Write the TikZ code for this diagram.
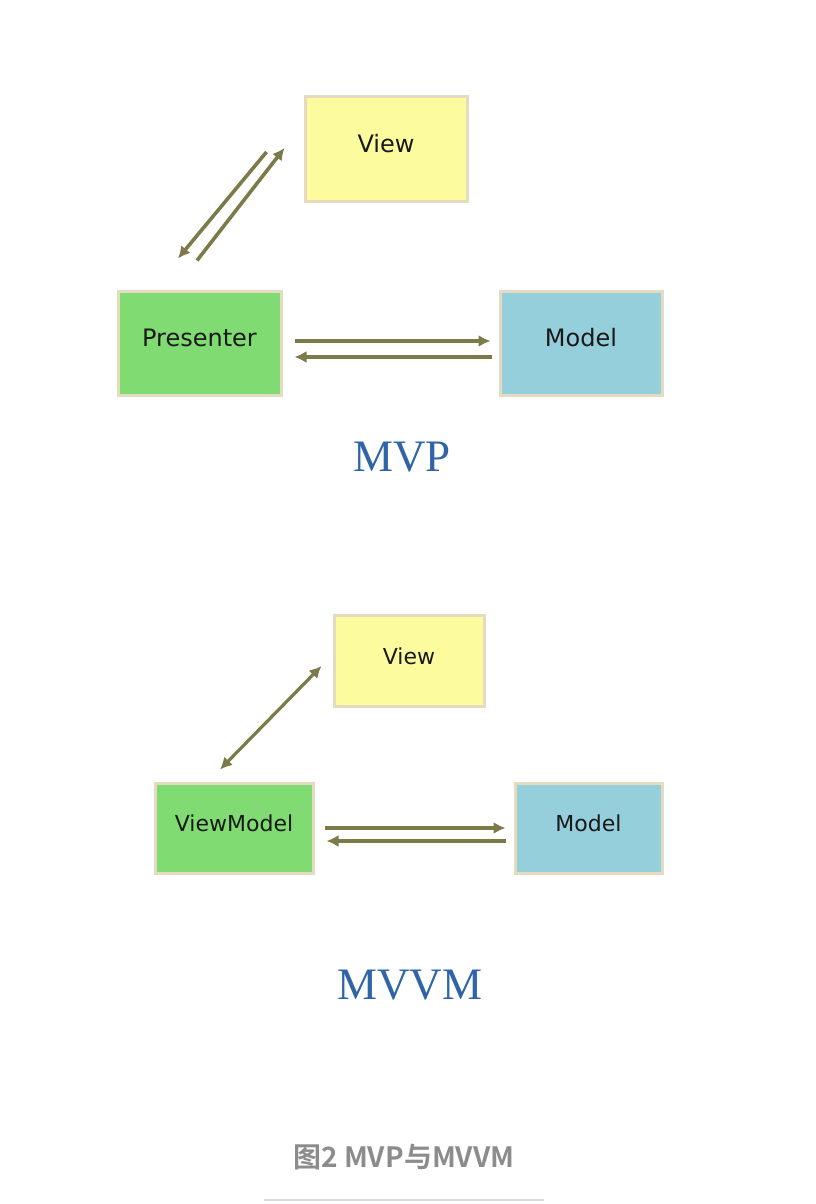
\documentclass[tikz,border=0pt]{standalone}
\usepackage{fontspec}
\newfontfamily\boxfont{DejaVu Sans}
\newfontfamily\titlefont{Liberation Serif}
\newfontfamily\cjk{Noto Sans CJK SC}[BoldFont={Noto Sans CJK SC Bold}]
\usetikzlibrary{arrows.meta}
\definecolor{viewfill}{HTML}{FCFC9E}
\definecolor{presfill}{HTML}{80DC72}
\definecolor{modelfill}{HTML}{96CFDC}
\definecolor{boxline}{HTML}{E4DBC0}
\definecolor{arrowcol}{HTML}{7C7A48}
\definecolor{titleblue}{HTML}{2F64A6}
\begin{document}
\begin{tikzpicture}[x=1pt,y=-1pt,
  box/.style={draw=boxline, line width=3pt, text=black!90, inner sep=0pt},
  bigtext/.style={font=\boxfont\fontsize{24}{28}\selectfont, text height=17pt, text depth=10pt},
  smalltext/.style={font=\boxfont\fontsize{22}{26}\selectfont, text height=16pt, text depth=8.5pt},
  arr/.style={draw=arrowcol, line width=3.6pt, -{Latex[length=12pt,width=12pt]}},
  dblarr/.style={draw=arrowcol, line width=3.2pt, {Latex[length=12pt,width=12pt]}-{Latex[length=12pt,width=12pt]}}]
\useasboundingbox (0,0) rectangle (816,1204);

% MVP boxes
\node[box, bigtext, fill=viewfill, minimum width=162pt, minimum height=104pt] (view) at (386,149) {View};
\node[box, bigtext, fill=presfill, minimum width=163pt, minimum height=104pt] (presenter) at (199.5,343) {Presenter};
\node[box, bigtext, fill=modelfill, minimum width=162pt, minimum height=104pt] (model) at (581,343) {Model};

% MVP arrows
\draw[arr] ([shift={(-37pt,-3pt)}]view.west) -- ([shift={(-21.5pt,31pt)}]presenter.north);
\draw[arr] ([shift={(-2.5pt,29pt)}]presenter.north) -- ([shift={(-19pt,1pt)}]view.west);
\draw[arr] ([shift={(12pt,2pt)}]presenter.east) -- ([shift={(-8pt,2pt)}]model.west);
\draw[arr] ([shift={(-7pt,-14pt)}]model.west) -- ([shift={(12pt,-14pt)}]presenter.east);

\node[text=titleblue, font=\titlefont\fontsize{45}{50}\selectfont] (mvp) at (402,457) {MVP};

% MVVM boxes
\node[box, smalltext, fill=viewfill, minimum width=150pt, minimum height=91pt] (view2) at (409,660.5) {View};
\node[box, smalltext, fill=presfill, minimum width=158pt, minimum height=90pt] (viewmodel) at (234,828) {ViewModel};
\node[box, smalltext, fill=modelfill, minimum width=147pt, minimum height=90pt] (model2) at (588.5,828) {Model};

% MVVM arrows
\draw[dblarr] ([shift={(-14pt,12pt)}]viewmodel.north) -- ([shift={(-11pt,-5.5pt)}]view2.west);
\draw[arr] ([shift={(10pt,0pt)}]viewmodel.east) -- ([shift={(-8pt,0pt)}]model2.west);
\draw[arr] ([shift={(-8pt,-13pt)}]model2.west) -- ([shift={(12pt,-13pt)}]viewmodel.east);

\node[text=titleblue, font=\titlefont\fontsize{45}{50}\selectfont] (mvvm) at (410,985) {MVVM};

% Caption
\node[text=black!45, font=\cjk\bfseries\fontsize{28}{30}\selectfont] (caption) at (404,1157) {图2 MVP与MVVM};
\draw[black!15, line width=2pt] (264,1200) -- (544,1200);

\end{tikzpicture}
\end{document}
